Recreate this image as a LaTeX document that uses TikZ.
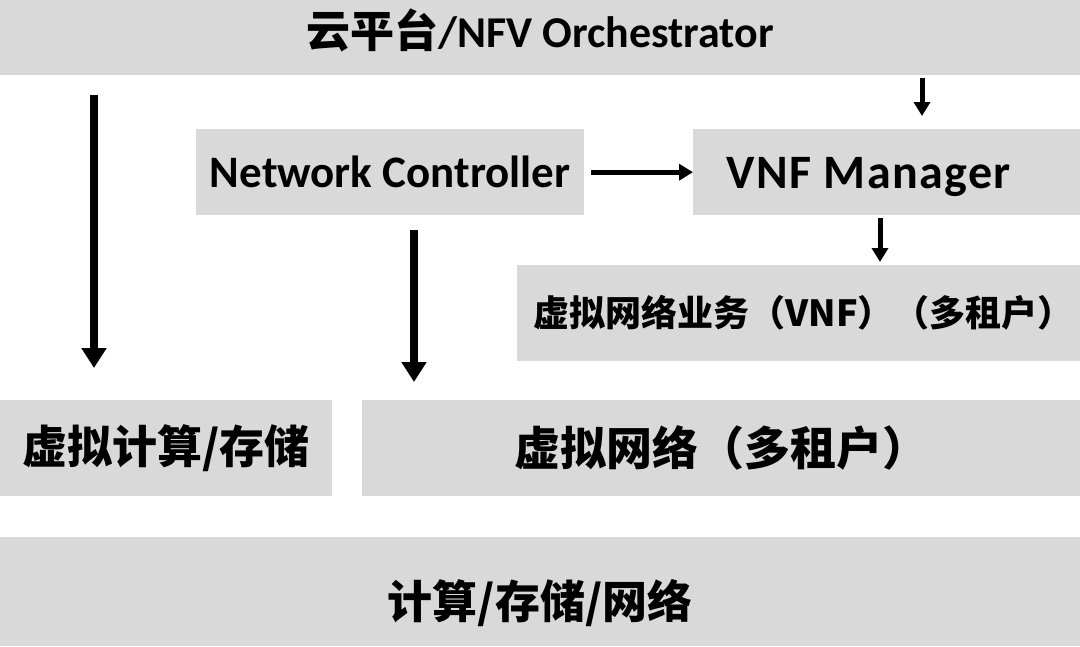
\documentclass[tikz,border=0pt]{standalone}
\usepackage{fontspec}
\setmainfont{Carlito}
\newfontfamily\cjk{Noto Sans CJK SC}
\usetikzlibrary{arrows.meta}
\definecolor{boxgray}{HTML}{D9D9D9}

\begin{document}
\begin{tikzpicture}[x=1pt, y=-1pt,
  layer/.style={fill=boxgray, draw=none, anchor=north west, inner sep=0pt, font=\bfseries},
  bigarrow/.style={line width=8pt, -{Triangle[width=24pt,length=20pt]}},
  smallarrow/.style={line width=5pt, -{Triangle[width=16pt,length=14pt]}}]
\useasboundingbox (0,0) rectangle (1080,646);
% layers, pixel coordinates
\node[layer, minimum width=1080pt, minimum height=75pt, text height=26pt, text depth=7pt] (orch) at (0,0)
  {\fontsize{44}{48}\selectfont{\cjk\bfseries 云平台}/NFV Orchestrator};
\node[layer, minimum width=388pt, minimum height=86pt] (nc) at (196,129)
  {\fontsize{45}{48}\selectfont Network Controller};
\node[layer, minimum width=387pt, minimum height=86pt, text height=40pt, text depth=8pt] (vnfm) at (693,129)
  {\fontsize{48}{50}\selectfont\addfontfeature{LetterSpace=3}VNF Manager\hspace*{36pt}};
\node[layer, minimum width=563pt, minimum height=96pt] (svc) at (517,265)
  {\fontsize{36}{40}\selectfont\cjk\bfseries\hspace*{10pt}虚拟网络业务（VNF）（多租户）};
\node[layer, minimum width=332pt, minimum height=96pt] (vcs) at (0,400)
  {\fontsize{45}{48}\selectfont\cjk\bfseries 虚拟计算/存储};
\node[layer, minimum width=718pt, minimum height=96pt] (vnet) at (362,400)
  {\fontsize{46}{48}\selectfont\cjk\bfseries 虚拟网络（多租户）};
\node[layer, minimum width=1080pt, minimum height=109pt, text height=60pt, text depth=6pt] (hw) at (0,537)
  {\fontsize{45}{48}\selectfont\cjk\bfseries 计算/存储/网络};
% connectors
\draw[bigarrow, shorten <=20pt, shorten >=32pt] ([xshift=94pt]orch.south west) -- ([xshift=94pt]vcs.north west);
\draw[bigarrow, shorten <=15pt, shorten >=18pt] ([xshift=218pt]nc.south west) -- ([xshift=52pt]vnet.north west);
\draw[smallarrow, shorten <=7pt] (nc.east) -- (vnfm.west);
\draw[smallarrow, shorten <=3pt, shorten >=13pt] ([xshift=922pt]orch.south west) -- ([xshift=229pt]vnfm.north west);
\draw[smallarrow, shorten <=3pt, shorten >=3pt] ([xshift=187pt]vnfm.south west) -- ([xshift=363pt]svc.north west);
\end{tikzpicture}
\end{document}
